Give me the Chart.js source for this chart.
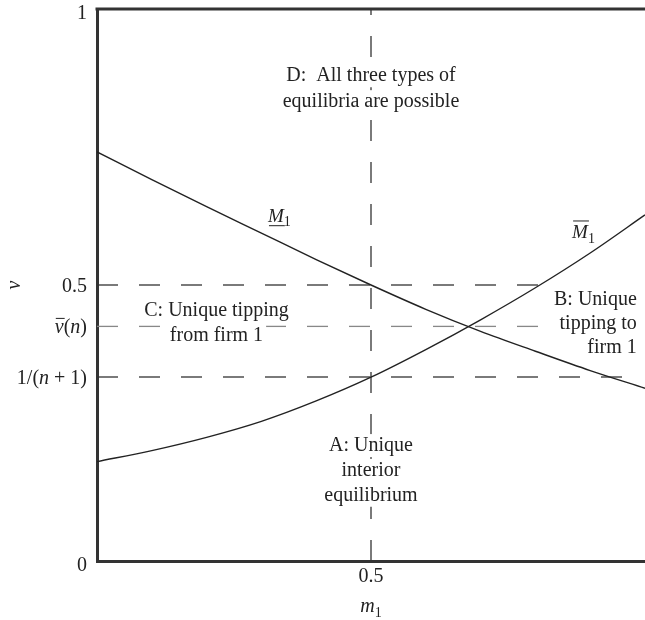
<!DOCTYPE html>
<html>
<head>
<meta charset="utf-8">
<script src="https://cdn.jsdelivr.net/npm/chart.js@4.4.1/dist/chart.umd.min.js"></script>
<style>
  html, body { margin: 0; padding: 0; background: #fff; }
  #wrap { width: 645px; height: 620px; }
</style>
</head>
<body>
<div id="wrap"><canvas id="regions" width="645" height="620"></canvas></div>
<script>
// --- DATA ---
const mValues = [0, 0.1, 0.2, 0.3, 0.4, 0.5, 0.6, 0.7, 0.8, 0.9, 1.0];
// lower boundary M_1 (underlined), falls as m1 grows
const lowerBoundary = [0.741, 0.691, 0.642, 0.594, 0.546, 0.5, 0.456, 0.416, 0.38, 0.345, 0.313];
// upper boundary M_1 (overlined), rises as m1 grows
const upperBoundary = [0.18, 0.2, 0.224, 0.253, 0.29, 0.333, 0.383, 0.437, 0.495, 0.558, 0.627];

const mHalf = 0.5;
const vHalf = 0.5;
const vBarN = 0.425;     // v̄(n)
const vInvN = 1 / 3;     // 1/(n + 1), n = 2

const xTickValues = [0, 0.5];
const yTickValues = [0, vInvN, vBarN, vHalf, 1];

// --- TEXT HELPERS ---
const SERIF = '"Liberation Serif", "DejaVu Serif", serif';
const INK = '#222';

function fontFor(p, size) {
    return (p.it ? 'italic ' : '') + (p.sub ? Math.round(size * 0.72) : size) + 'px ' + SERIF;
}

function richWidth(ctx, parts, size) {
    let w = 0;
    parts.forEach(p => { ctx.font = fontFor(p, size); w += ctx.measureText(p.t).width; });
    return w;
}

// draws a run of text pieces (italic / subscript / over- and underlines) on one baseline
function drawRich(ctx, parts, x, y, size, align) {
    const total = richWidth(ctx, parts, size);
    let cx = align === 'right' ? x - total : align === 'center' ? x - total / 2 : x;
    ctx.textAlign = 'left';
    ctx.textBaseline = 'alphabetic';
    parts.forEach(p => {
        ctx.font = fontFor(p, size);
        const w = ctx.measureText(p.t).width;
        const yy = p.sub ? y + size * 0.25 : y;
        ctx.fillText(p.t, cx, yy);
        if (p.over || p.under) {
            const ly = p.over ? y - size * p.over : y + size * p.under;
            ctx.beginPath();
            ctx.lineWidth = 1;
            ctx.moveTo(cx + 1, ly);
            ctx.lineTo(cx + w + (p.it ? 1 : 0), ly);
            ctx.stroke();
        }
        cx += w;
    });
}

const yTickLabels = [
    [{ t: '0' }],
    [{ t: '1/(' }, { t: 'n', it: 1 }, { t: ' + 1)' }],
    [{ t: 'v', it: 1, over: 0.75 }, { t: '(' }, { t: 'n', it: 1 }, { t: ')' }],
    [{ t: '0.5' }],
    [{ t: '1' }]
];
const xTickLabels = [[{ t: '' }], [{ t: '0.5' }]];

const curveLabels = [
    { m: 0.312, v: 0.615, parts: [{ t: 'M', it: 1, under: 0.22 }, { t: '1', sub: 1 }] },
    { m: 0.867, v: 0.585, parts: [{ t: 'M', it: 1, over: 0.9 }, { t: '1', sub: 1 }] }
];

const regionNotes = [
    { m: 0.5, v: [0.88, 0.833], align: 'center', lines: ['D:  All three types of', 'equilibria are possible'] },
    { m: 0.5, v: [0.21, 0.165, 0.12], align: 'center', lines: ['A: Unique', 'interior', 'equilibrium'] },
    { m: 0.218, v: [0.455, 0.409], align: 'center', lines: ['C: Unique tipping', 'from firm 1'] },
    { m: 0.985, v: [0.475, 0.431, 0.388], align: 'right', lines: ['B: Unique', 'tipping to', 'firm 1'] }
];

// --- PLUGIN: frame top, tick labels, titles, notes ---
const annotate = {
    id: 'annotate',
    afterDatasetsDraw(chart) {
        const ctx = chart.ctx;
        const { left, top, bottom } = chart.chartArea;
        const xs = chart.scales.x, ys = chart.scales.y;
        ctx.save();
        ctx.fillStyle = INK;
        ctx.strokeStyle = INK;

        // top edge of the frame
        ctx.beginPath();
        ctx.lineWidth = 3;
        ctx.strokeStyle = '#333';
        ctx.moveTo(left - 1.5, top);
        ctx.lineTo(chart.width, top);
        ctx.stroke();
        ctx.strokeStyle = INK;

        // y tick labels
        yTickValues.forEach((v, i) => {
            const py = ys.getPixelForValue(v) + ((v === 0 || v === 1) ? 10 : 7);
            drawRich(ctx, yTickLabels[i], left - 10, py, 20, 'right');
        });
        // x tick labels
        xTickValues.forEach((m, i) => {
            drawRich(ctx, xTickLabels[i], xs.getPixelForValue(m), bottom + 21, 20, 'center');
        });

        // axis titles
        drawRich(ctx, [{ t: 'm', it: 1 }, { t: '1', sub: 1 }], xs.getPixelForValue(mHalf), bottom + 51, 20, 'center');
        ctx.save();
        ctx.translate(20, (top + bottom) / 2);
        ctx.rotate(-Math.PI / 2);
        drawRich(ctx, [{ t: 'v', it: 1 }], 0, 0, 20, 'center');
        ctx.restore();

        // curve names
        curveLabels.forEach(c => {
            drawRich(ctx, c.parts, xs.getPixelForValue(c.m), ys.getPixelForValue(c.v), 19, 'left');
        });

        // region notes on white so the dashed guides break around them
        ctx.font = '20px ' + SERIF;
        ctx.textBaseline = 'middle';
        regionNotes.forEach(n => {
            const px = xs.getPixelForValue(n.m);
            n.lines.forEach((line, k) => {
                const py = ys.getPixelForValue(n.v[k]);
                const w = ctx.measureText(line).width;
                const x0 = n.align === 'right' ? px - w : px - w / 2;
                ctx.fillStyle = '#fff';
                ctx.fillRect(x0 - 3, py - 11, w + 6, 23);
                ctx.fillStyle = INK;
                ctx.textAlign = 'left';
                ctx.fillText(line, x0, py + 1);
            });
        });
        ctx.restore();
    }
};

// --- CHART SETUP ---
const pts = (ys) => mValues.map((m, i) => ({ x: m, y: ys[i] }));
const dashed = (data, color) => ({
    data, borderColor: color, borderWidth: 1.3, borderDash: [21, 21], pointRadius: 0, fill: false
});

new Chart(document.getElementById('regions'), {
    type: 'line',
    data: {
        datasets: [
            { data: pts(lowerBoundary), borderColor: INK, borderWidth: 1.4, pointRadius: 0, cubicInterpolationMode: 'monotone', fill: false },
            { data: pts(upperBoundary), borderColor: INK, borderWidth: 1.4, pointRadius: 0, cubicInterpolationMode: 'monotone', fill: false },
            dashed([{ x: mHalf, y: 0 }, { x: mHalf, y: 1 }], '#333'),
            dashed([{ x: 0, y: vHalf }, { x: 0.82, y: vHalf }], '#333'),
            dashed([{ x: 0, y: vBarN }, { x: 0.82, y: vBarN }], '#888'),
            dashed([{ x: 0, y: vInvN }, { x: 0.977, y: vInvN }], '#333')
        ]
    },
    options: {
        responsive: false,
        animation: false,
        layout: { padding: { top: 9, right: 0, left: 0, bottom: 0 } },
        plugins: { legend: { display: false }, tooltip: { enabled: false } },
        scales: {
            x: {
                type: 'linear', min: 0, max: 1,
                ticks: { display: false },
                grid: { display: false },
                border: { display: true, width: 3, color: '#333' },
                afterFit(s) { s.height = 59; }
            },
            y: {
                type: 'linear', min: 0, max: 1,
                ticks: { display: false },
                grid: { display: false },
                border: { display: true, width: 3, color: '#333' },
                afterFit(s) { s.width = 97; }
            }
        }
    },
    plugins: [annotate]
});
</script>
</body>
</html>
